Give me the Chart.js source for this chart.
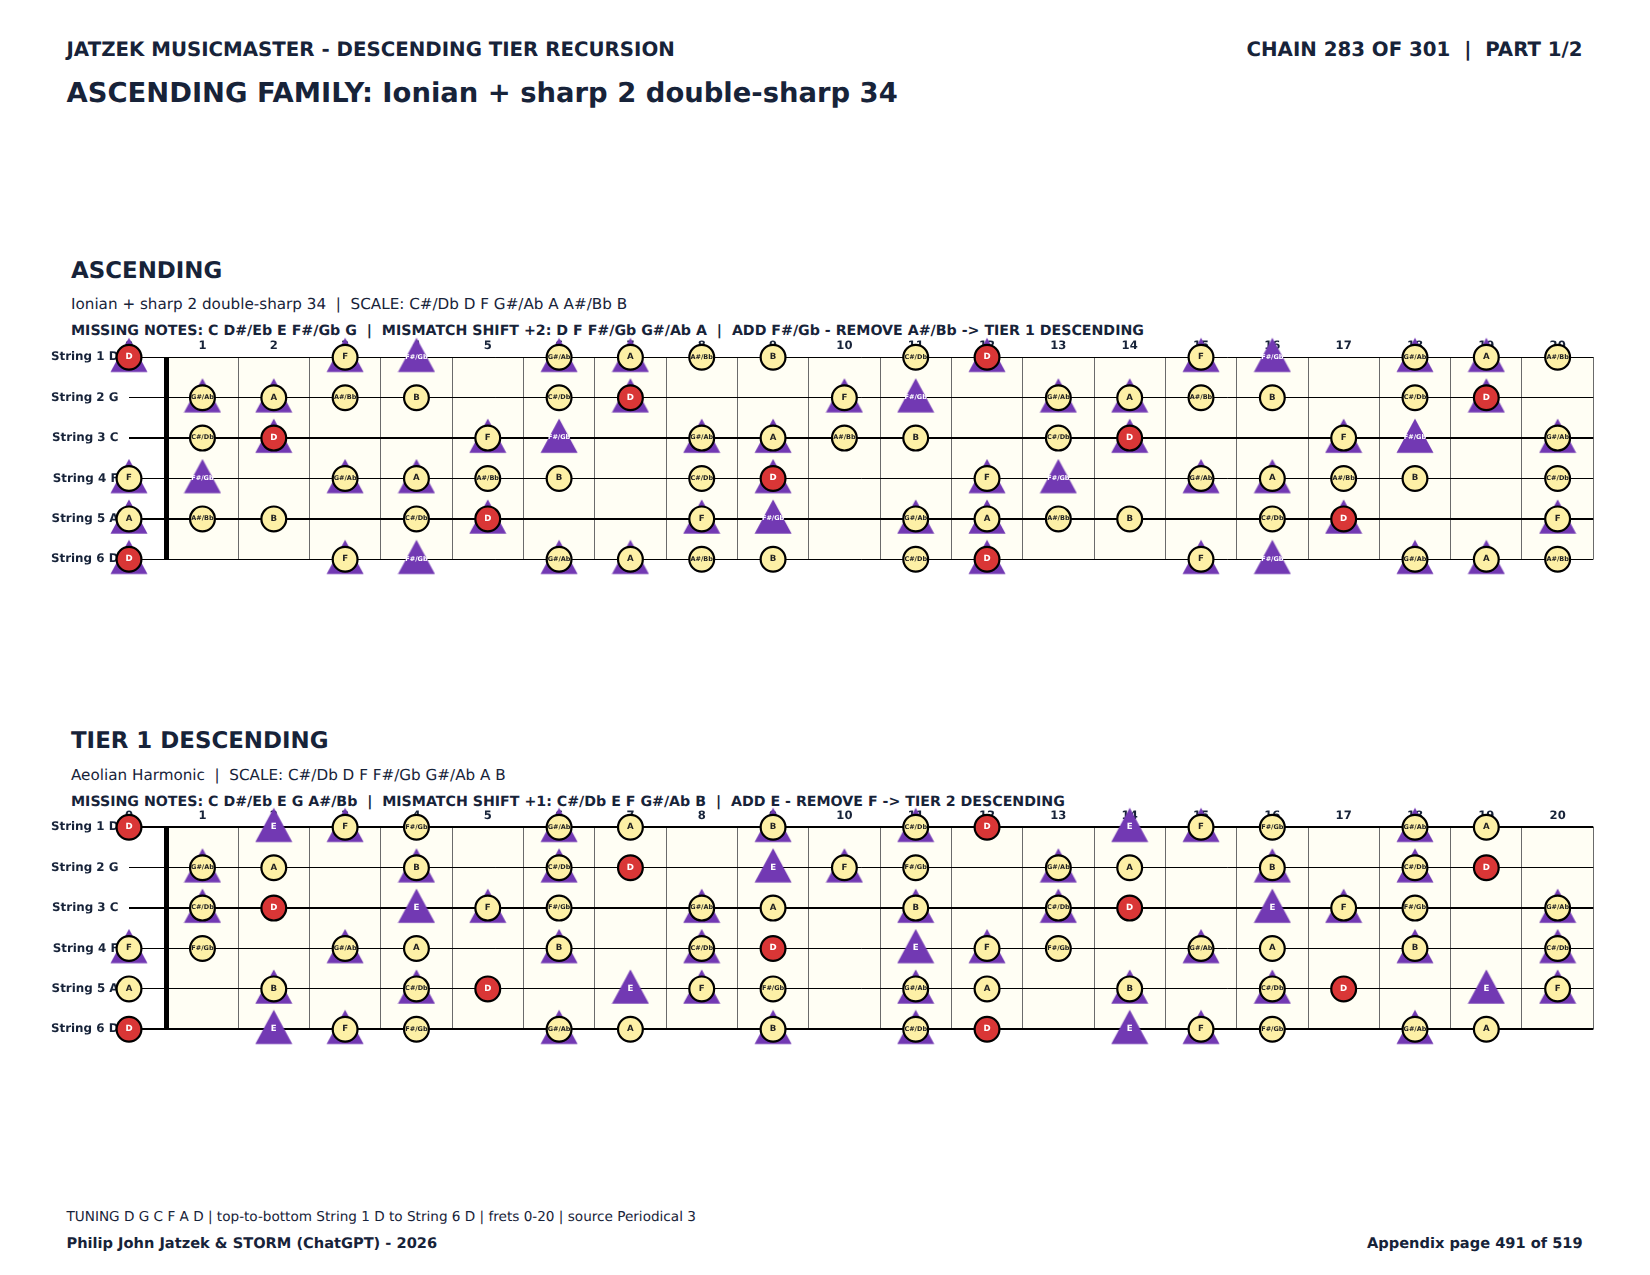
<!DOCTYPE html>
<html>
<head>
<meta charset="utf-8">
<script src="https://cdn.jsdelivr.net/npm/chart.js@4"></script>
<style>
body { margin: 0; background: #fff; width: 1650px; height: 1275px; position: relative; overflow: hidden; font-family: "DejaVu Sans", sans-serif; color: #172339; text-rendering: geometricPrecision; }
.t { position: absolute; white-space: pre; line-height: 1; }
.b { font-weight: bold; }
canvas { position: absolute; left: 0; }
</style>
</head>
<body>
<div class="t b" style="left:66.5px;top:40.4px;font-size:19.8px">JATZEK MUSICMASTER - DESCENDING TIER RECURSION</div>
<div class="t b" style="right:67.4px;top:40.4px;font-size:19.8px">CHAIN 283 OF 301  |  PART 1/2</div>
<div class="t b" style="left:66.5px;top:80px;font-size:27.4px">ASCENDING FAMILY: Ionian + sharp 2 double-sharp 34</div>

<div class="t b" style="left:71px;top:259.5px;font-size:22.9px">ASCENDING</div>
<div class="t" style="left:71px;top:296.5px;font-size:15.2px">Ionian + sharp 2 double-sharp 34  |  SCALE: C#/Db D F G#/Ab A A#/Bb B</div>
<div class="t b" style="left:71px;top:324px;font-size:14.2px">MISSING NOTES: C D#/Eb E F#/Gb G  |  MISMATCH SHIFT +2: D F F#/Gb G#/Ab A  |  ADD F#/Gb - REMOVE A#/Bb -&gt; TIER 1 DESCENDING</div>
<canvas id="ascChart" width="1650" height="300" style="top:301px"></canvas>

<div class="t b" style="left:71px;top:729.5px;font-size:22.9px">TIER 1 DESCENDING</div>
<div class="t" style="left:71px;top:767.9px;font-size:15.2px">Aeolian Harmonic  |  SCALE: C#/Db D F F#/Gb G#/Ab A B</div>
<div class="t b" style="left:71px;top:794.9px;font-size:14.2px">MISSING NOTES: C D#/Eb E G A#/Bb  |  MISMATCH SHIFT +1: C#/Db E F G#/Ab B  |  ADD E - REMOVE F -&gt; TIER 2 DESCENDING</div>
<canvas id="descChart" width="1650" height="300" style="top:771px"></canvas>

<div class="t" style="left:66.5px;top:1210.7px;font-size:13.6px">TUNING D G C F A D | top-to-bottom String 1 D to String 6 D | frets 0-20 | source Periodical 3</div>
<div class="t b" style="left:66.5px;top:1237px;font-size:14.6px">Philip John Jatzek &amp; STORM (ChatGPT) - 2026</div>
<div class="t b" style="right:67.4px;top:1237px;font-size:14.6px">Appendix page 491 of 519</div>

<script>
const stringLabels = ['String 1 D', 'String 2 G', 'String 3 C', 'String 4 F', 'String 5 A', 'String 6 D'];
const fretLabels = ['0', '1', '2', '3', '4', '5', '6', '7', '8', '9', '10', '11', '12', '13', '14', '15', '16', '17', '18', '19', '20'];
const fretLines = [0.5, 1.5, 2.5, 3.5, 4.5, 5.5, 6.5, 7.5, 8.5, 9.5, 10.5, 11.5, 12.5, 13.5, 14.5, 15.5, 16.5, 17.5, 18.5, 19.5, 20.5];

// note name at every fret 0-20, one row per string
const fretNotes = [
    ['D', 'D#/Eb', 'E', 'F', 'F#/Gb', 'G', 'G#/Ab', 'A', 'A#/Bb', 'B', 'C', 'C#/Db', 'D', 'D#/Eb', 'E', 'F', 'F#/Gb', 'G', 'G#/Ab', 'A', 'A#/Bb'],
    ['G', 'G#/Ab', 'A', 'A#/Bb', 'B', 'C', 'C#/Db', 'D', 'D#/Eb', 'E', 'F', 'F#/Gb', 'G', 'G#/Ab', 'A', 'A#/Bb', 'B', 'C', 'C#/Db', 'D', 'D#/Eb'],
    ['C', 'C#/Db', 'D', 'D#/Eb', 'E', 'F', 'F#/Gb', 'G', 'G#/Ab', 'A', 'A#/Bb', 'B', 'C', 'C#/Db', 'D', 'D#/Eb', 'E', 'F', 'F#/Gb', 'G', 'G#/Ab'],
    ['F', 'F#/Gb', 'G', 'G#/Ab', 'A', 'A#/Bb', 'B', 'C', 'C#/Db', 'D', 'D#/Eb', 'E', 'F', 'F#/Gb', 'G', 'G#/Ab', 'A', 'A#/Bb', 'B', 'C', 'C#/Db'],
    ['A', 'A#/Bb', 'B', 'C', 'C#/Db', 'D', 'D#/Eb', 'E', 'F', 'F#/Gb', 'G', 'G#/Ab', 'A', 'A#/Bb', 'B', 'C', 'C#/Db', 'D', 'D#/Eb', 'E', 'F'],
    ['D', 'D#/Eb', 'E', 'F', 'F#/Gb', 'G', 'G#/Ab', 'A', 'A#/Bb', 'B', 'C', 'C#/Db', 'D', 'D#/Eb', 'E', 'F', 'F#/Gb', 'G', 'G#/Ab', 'A', 'A#/Bb']
];

// frets holding a circle or triangle, one row per string
const ascCircleFrets = [
    [0, 3, 6, 7, 8, 9, 11, 12, 15, 18, 19, 20],
    [1, 2, 3, 4, 6, 7, 10, 13, 14, 15, 16, 18, 19],
    [1, 2, 5, 8, 9, 10, 11, 13, 14, 17, 20],
    [0, 3, 4, 5, 6, 8, 9, 12, 15, 16, 17, 18, 20],
    [0, 1, 2, 4, 5, 8, 11, 12, 13, 14, 16, 17, 20],
    [0, 3, 6, 7, 8, 9, 11, 12, 15, 18, 19, 20]
];
const ascTriangleFrets = [
    [0, 3, 4, 6, 7, 12, 15, 16, 18, 19],
    [1, 2, 7, 10, 11, 13, 14, 19],
    [2, 5, 6, 8, 9, 14, 17, 18, 20],
    [0, 1, 3, 4, 9, 12, 13, 15, 16],
    [0, 5, 8, 9, 11, 12, 17, 20],
    [0, 3, 4, 6, 7, 12, 15, 16, 18, 19]
];
const descCircleFrets = [
    [0, 3, 4, 6, 7, 9, 11, 12, 15, 16, 18, 19],
    [1, 2, 4, 6, 7, 10, 11, 13, 14, 16, 18, 19],
    [1, 2, 5, 6, 8, 9, 11, 13, 14, 17, 18, 20],
    [0, 1, 3, 4, 6, 8, 9, 12, 13, 15, 16, 18, 20],
    [0, 2, 4, 5, 8, 9, 11, 12, 14, 16, 17, 20],
    [0, 3, 4, 6, 7, 9, 11, 12, 15, 16, 18, 19]
];
const descTriangleFrets = [
    [2, 3, 6, 9, 11, 14, 15, 18],
    [1, 4, 6, 9, 10, 13, 16, 18],
    [1, 4, 5, 8, 11, 13, 16, 17, 20],
    [0, 3, 6, 8, 11, 12, 15, 18, 20],
    [2, 4, 7, 8, 11, 14, 16, 19, 20],
    [2, 3, 6, 9, 11, 14, 15, 18]
];

const rootNote = 'D';
const openX = -0.03; // open string column sits just left of the grid
const inkColor = '#172339';
const purple = '#7239b3';

function fretX(fret) {
    return fret === 0 ? openX : fret;
}

function toPoints(rows) {
    var points = [];
    rows.forEach(function (frets, s) {
        frets.forEach(function (fret) {
            points.push({ x: fretX(fret), y: stringLabels[s], note: fretNotes[s][fret] });
        });
    });
    return points;
}

// matplotlib style triangle, sits a bit above the string
function makeTriangle() {
    var c = document.createElement('canvas');
    c.width = 38;
    c.height = 40;
    var g = c.getContext('2d');
    g.fillStyle = purple;
    g.beginPath();
    g.moveTo(19, 0.4);
    g.lineTo(37.5, 34.8);
    g.lineTo(0.5, 34.8);
    g.closePath();
    g.fill();
    return c;
}
const triangleMark = makeTriangle();

const boardPlugin = {
    id: 'board',
    beforeDraw(chart) {
        var a = chart.chartArea;
        var left = chart.scales.x.getPixelForValue(fretLines[0]);
        chart.ctx.textRendering = 'geometricPrecision';
        chart.ctx.save();
        chart.ctx.fillStyle = '#fffef4';
        chart.ctx.fillRect(left, a.top, a.right - left, a.bottom - a.top);
        chart.ctx.restore();
    },
    afterDatasetsDraw(chart) {
        var ctx = chart.ctx;
        var circles = chart.data.datasets[0].data;
        ctx.save();
        ctx.textAlign = 'center';
        ctx.textBaseline = 'middle';
        chart.data.datasets.forEach(function (ds, d) {
            chart.getDatasetMeta(d).data.forEach(function (el, i) {
                var p = ds.data[i];
                if (d === 1 && circles.some(c => c.x === p.x && c.y === p.y)) return;
                var long = p.note.length > 1;
                ctx.font = 'bold ' + (long ? 6.5 : 8.6) + 'px "DejaVu Sans"';
                ctx.fillStyle = (d === 1 || p.note === rootNote) ? '#ffffff' : '#222222';
                ctx.fillText(p.note, el.x, el.y - 0.4);
            });
        });
        ctx.restore();
    }
};

function drawBoard(canvasId, circleFrets, triangleFrets, thickStrings) {
    return new Chart(document.getElementById(canvasId), {
        type: 'scatter',
        plugins: [boardPlugin],
        data: {
            datasets: [
                {
                    label: 'scale',
                    data: toPoints(circleFrets),
                    clip: false,
                    pointStyle: 'circle',
                    pointRadius: 12.4,
                    pointHoverRadius: 12.4,
                    pointBorderWidth: 2.2,
                    pointBorderColor: '#000000',
                    pointBackgroundColor: ctx => ctx.raw.note === rootNote ? '#d93636' : '#fdf0a6'
                },
                {
                    label: 'mismatch',
                    data: toPoints(triangleFrets),
                    clip: false,
                    pointStyle: triangleMark,
                    pointRadius: 19,
                    pointBorderWidth: 0
                }
            ]
        },
        options: {
            responsive: false,
            animation: false,
            events: [],
            layout: { padding: { left: 0, right: 56.7, top: 0, bottom: 41.7 } },
            plugins: { legend: { display: false }, tooltip: { enabled: false } },
            scales: {
                x: {
                    type: 'linear',
                    position: 'top',
                    min: openX,
                    max: 20.5,
                    afterBuildTicks(scale) { scale.ticks = fretLabels.map((v, i) => ({ value: fretX(i) })); },
                    afterFit(scale) { scale.height = 56.3; },
                    grid: { display: false, drawTicks: false },
                    border: { display: false },
                    ticks: {
                        autoSkip: false,
                        maxRotation: 0,
                        padding: 4.5,
                        callback: (v, i) => fretLabels[i],
                        color: inkColor,
                        font: { family: 'DejaVu Sans', weight: 'bold', size: 11.6 }
                    }
                },
                frets: {
                    type: 'linear',
                    position: 'top',
                    min: openX,
                    max: 20.5,
                    afterBuildTicks(scale) { scale.ticks = fretLines.map(v => ({ value: v })); },
                    afterFit(scale) { scale.height = 0; },
                    border: { display: false },
                    ticks: { display: false, autoSkip: false },
                    grid: {
                        drawTicks: false,
                        color: ctx => ctx.tick.value === fretLines[0] ? '#000000' : '#6b6b6b',
                        lineWidth: ctx => ctx.tick.value === fretLines[0] ? 5 : 1
                    }
                },
                y: {
                    type: 'category',
                    labels: stringLabels,
                    offset: false,
                    afterFit(scale) { scale.width = 129; },
                    border: { display: false },
                    grid: {
                        drawTicks: false,
                        color: '#000000',
                        lineWidth: ctx => thickStrings.includes(ctx.index) ? 2 : 1
                    },
                    ticks: {
                        autoSkip: false,
                        padding: 10.5,
                        color: inkColor,
                        font: { family: 'DejaVu Sans', weight: 'bold', size: 11.9 }
                    }
                }
            }
        }
    });
}

drawBoard('ascChart', ascCircleFrets, ascTriangleFrets, [2, 4]);
drawBoard('descChart', descCircleFrets, descTriangleFrets, [0, 2, 5]);
</script>
</body>
</html>
